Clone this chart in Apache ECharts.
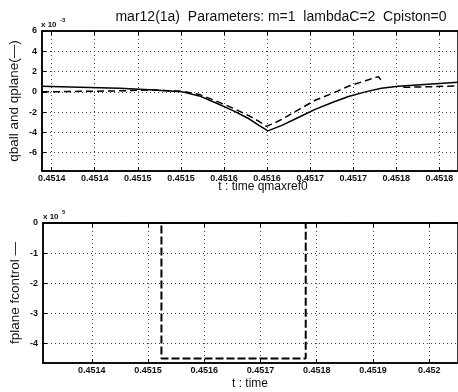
<!DOCTYPE html>
<html><head><meta charset="utf-8">
<script src="https://cdn.jsdelivr.net/npm/echarts@6/dist/echarts.min.js"></script>
<style>html,body{margin:0;padding:0;background:#fff}#c{width:458px;height:392px}</style>
</head><body><div id="c"></div>
<script>
// ---- text ----
const titleText = 'mar12(1a)  Parameters: m=1  lambdaC=2  Cpiston=0';
const topYName = 'qball and qplane(\u2014)';
const topXName = 't : time qmaxref0';
const botYName = 'fplane fcontrol \u2014';
const botXName = 't : time';

// ---- top panel ticks ----
const topXTicks = [0.45140,0.45145,0.45150,0.45155,0.45160,0.45165,0.45170,0.45175,0.45180,0.45185];
const topXLabels = ['0.4514','0.4514','0.4515','0.4515','0.4516','0.4516','0.4517','0.4517','0.4518','0.4518'];
const topYTicks = [-6,-4,-2,0,2,4,6];          // x 10^-3

// ---- top panel series (value in units of 1e-3) ----
const qballT = [0.4513888,0.4514327,0.4514789,0.4515135,0.4515517,0.4515713,0.4515909,0.4516117,0.4516290,0.4516406,0.4516510,0.4516672,0.4516868,0.4517064,0.4517272,0.4517445,0.4517642,0.4517826,0.4518023,0.4518369,0.4518716];
const qballV = [0.55,0.45,0.35,0.2,0.0,-0.4,-1.1,-1.9,-2.65,-3.3,-3.85,-3.3,-2.5,-1.7,-1.0,-0.45,0.0,0.35,0.55,0.75,0.95];

const qplaneT = [0.4513888,0.4514327,0.4514789,0.4515135,0.4515517,0.4515713,0.4515909,0.4516117,0.4516290,0.4516406,0.4516490,0.4516579,0.4516672,0.4516868,0.4517064,0.4517272,0.4517445,0.4517642,0.4517792,0.4517826,0.4517900,0.4518081,0.4518369,0.4518716];
const qplaneV = [0.0,0.05,0.1,0.2,0.05,-0.25,-0.9,-1.65,-2.35,-2.9,-3.4,-3.1,-2.7,-1.75,-0.8,-0.1,0.55,1.1,1.5,1.15,null,0.45,0.5,0.6];

// ---- bottom panel ticks ----
const botXTicks = [0.4514,0.4515,0.4516,0.4517,0.4518,0.4519,0.4520];
const botXLabels = ['0.4514','0.4515','0.4516','0.4517','0.4518','0.4519','0.452'];
const botYTicks = [-4,-3,-2,-1,0];             // x 10^5

// ---- bottom panel series (value in units of 1e5) ----
const fcontrolT = [0.4513133,0.4515239,0.4515239,0.4517805,0.4517805,0.4520513];
const fcontrolV = [0,0,-4.5,-4.5,0,0];
const fplaneT = [0.4513133,0.4520513];
const fplaneV = [0,0];

// ---- build ----
const zip = (a,b) => a.map((t,i) => [t, b[i] === null ? '-' : b[i]]);
const lab = (vals, labels) => v => { const i = vals.findIndex(x => Math.abs(x - v) < 1e-9); return i >= 0 ? labels[i] : ''; };
const FONT = 'Liberation Sans';
const tickFont = {fontSize: 9, fontWeight: 'bold', color: '#111', fontFamily: FONT};
const gridLine = {show: true, lineStyle: {color: '#444', width: 1, type: [1, 3]}};

function xAx(grid, min, max, ticks, labels, pos) {
  const main = pos === 'bottom';
  return {
    gridIndex: grid, type: 'value', min, max, position: pos,
    axisLine: {show: true, onZero: false, lineStyle: {color: '#000', width: 1.5}},
    axisTick: {show: true, inside: true, length: 4, customValues: ticks, lineStyle: {color: '#000'}},
    axisLabel: main ? Object.assign({show: true, customValues: ticks, formatter: lab(ticks, labels), margin: 3}, tickFont) : {show: false},
    splitLine: main ? gridLine : {show: false}
  };
}
function yAx(grid, min, max, ticks) {
  return {
    gridIndex: grid, type: 'value', min, max, position: 'left',
    axisLine: {show: true, onZero: false, lineStyle: {color: '#000', width: 1.5}},
    axisTick: {show: true, inside: true, length: 4, customValues: ticks, lineStyle: {color: '#000'}},
    axisLabel: Object.assign({show: true, customValues: ticks, formatter: v => String(v), margin: 5}, tickFont),
    splitLine: gridLine
  };
}
const lineSeries = (xi, yi, data, dashed) => ({
  type: 'line', xAxisIndex: xi, yAxisIndex: yi, data, symbol: 'none', showSymbol: false,
  lineStyle: {color: '#000', width: 1.5, type: dashed ? [7, 4] : 'solid'}, clip: true, animation: false, silent: true
});

const chart = echarts.init(document.getElementById('c'), null, {renderer: 'canvas'});
chart.setOption({
  animation: false,
  backgroundColor: '#fff',
  grid: [
    {left: 42, top: 31, width: 418, height: 140, show: true, borderColor: '#000', borderWidth: 1.5, backgroundColor: 'transparent'},
    {left: 43, top: 223, width: 417, height: 140, show: true, borderColor: '#000', borderWidth: 1.5, backgroundColor: 'transparent'}
  ],
  xAxis: [
    xAx(0, 0.4513888, 0.4518716, topXTicks, topXLabels, 'bottom'),
    xAx(0, 0.4513888, 0.4518716, topXTicks, topXLabels, 'top'),
    xAx(1, 0.4513133, 0.4520513, botXTicks, botXLabels, 'bottom'),
    xAx(1, 0.4513133, 0.4520513, botXTicks, botXLabels, 'top')
  ],
  yAxis: [
    yAx(0, -7.8, 6, topYTicks),
    yAx(1, -4.65, 0, botYTicks)
  ],
  series: [
    lineSeries(0, 0, zip(qballT, qballV), false),
    lineSeries(0, 0, zip(qplaneT, qplaneV), true),
    lineSeries(2, 1, zip(fplaneT, fplaneV), false),
    Object.assign(lineSeries(2, 1, zip(fcontrolT, fcontrolV), true), {lineStyle: {color: '#000', width: 2, type: [8, 3]}})
  ],
  graphic: [
    {type: 'text', x: 281, y: 17, style: {text: titleText, fontSize: 14, fontFamily: FONT, fill: '#111', align: 'center', verticalAlign: 'middle'}},
    {type: 'text', x: 14, y: 101, rotation: Math.PI / 2, style: {text: topYName, fontSize: 13.5, fontFamily: FONT, fill: '#111', align: 'center', verticalAlign: 'middle'}},
    {type: 'text', x: 263, y: 187, style: {text: topXName, fontSize: 12, fontFamily: FONT, fill: '#111', align: 'center', verticalAlign: 'middle'}},
    {type: 'text', x: 15, y: 293, rotation: Math.PI / 2, style: {text: botYName, fontSize: 13.5, fontFamily: FONT, fill: '#111', align: 'center', verticalAlign: 'middle'}},
    {type: 'text', x: 250, y: 384, style: {text: botXName, fontSize: 12, fontFamily: FONT, fill: '#111', align: 'center', verticalAlign: 'middle'}},
    {type: 'text', x: 41, y: 25, style: {text: 'x 10', fontSize: 8, fontWeight: 'bold', fontFamily: FONT, fill: '#111', align: 'left', verticalAlign: 'middle'}},
    {type: 'text', x: 60, y: 20, style: {text: '-3', fontSize: 6, fontWeight: 'bold', fontFamily: FONT, fill: '#111', align: 'left', verticalAlign: 'middle'}},
    {type: 'text', x: 43, y: 217, style: {text: 'x 10', fontSize: 8, fontWeight: 'bold', fontFamily: FONT, fill: '#111', align: 'left', verticalAlign: 'middle'}},
    {type: 'text', x: 62, y: 212, style: {text: '5', fontSize: 6, fontWeight: 'bold', fontFamily: FONT, fill: '#111', align: 'left', verticalAlign: 'middle'}}
  ]
});
</script>
</body></html>
